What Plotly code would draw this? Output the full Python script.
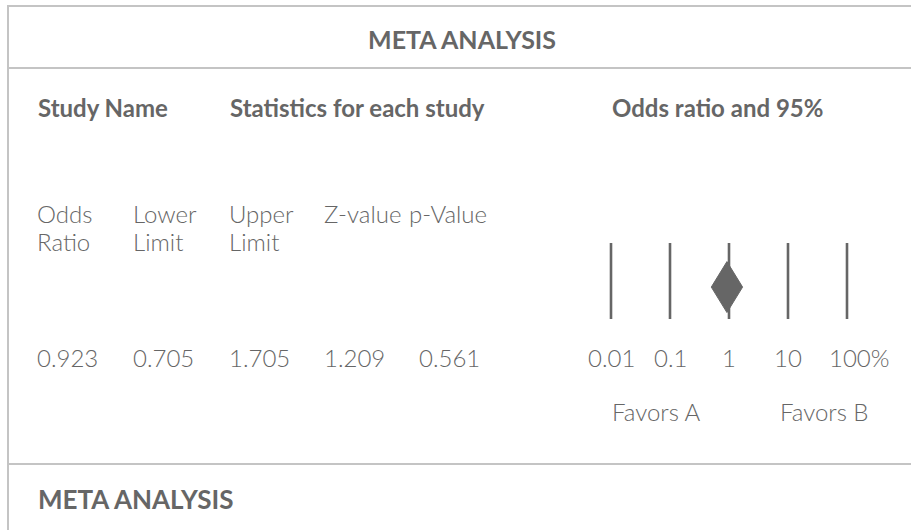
import math
import plotly.graph_objects as go

# ---------------- data ----------------
title_text = "META ANALYSIS"
footer_text = "META ANALYSIS"
group_headers = ["Study Name", "Statistics for each study", "Odds ratio and 95%"]
column_labels = [["Odds", "Ratio"], ["Lower", "Limit"], ["Upper", "Limit"], ["Z-value"], ["p-Value"]]
study_values = [0.923, 0.705, 1.705, 1.209, 0.561]
odds_ratio = 0.923
scale_ticks = [0.01, 0.1, 1, 10, 100]
scale_labels = ["0.01", "0.1", "1", "10", "100%"]
favor_labels = ["Favors A", "Favors B"]

# ---------------- layout helpers ----------------
W, H = 911, 530
TEXT = "#666666"
BORDER = "#c4c4c4"
FONT = "Lato, 'Open Sans', sans-serif"


def px(x):
    return x / W


def py(y):
    return 1 - y / H


fig = go.Figure()

# forest-plot scale lines
for v in scale_ticks:
    fig.add_trace(go.Scatter(x=[v, v], y=[0, 1], mode="lines",
                             line=dict(color=TEXT, width=2.6),
                             hoverinfo="skip", showlegend=False))

# pooled estimate diamond (centred on the odds ratio)
half_w = 0.265   # diamond half-width in decades (styling)
dy, half_h = 0.42, 0.335
fig.add_trace(go.Scatter(
    x=[odds_ratio * 10 ** -half_w, odds_ratio, odds_ratio * 10 ** half_w, odds_ratio, odds_ratio * 10 ** -half_w],
    y=[dy, dy + half_h, dy, dy - half_h, dy],
    mode="lines", fill="toself", fillcolor=TEXT, line=dict(color=TEXT, width=1),
    hoverinfo="skip", showlegend=False))

DEC = 59.0  # pixels per decade
fig.update_xaxes(type="log", range=[-2.2, 2.2], domain=[px(611 - 0.2 * DEC), px(847 + 0.2 * DEC)],
                 visible=False, fixedrange=True)
fig.update_yaxes(range=[0, 1], domain=[py(319), py(243)], visible=False, fixedrange=True)

ann = []


def add_text(text, x, y, size=24, bold=False, xanchor="left", xref="paper", xshift=0):
    ann.append(dict(text=text, x=x, y=y, xref=xref, yref="paper",
                    xanchor=xanchor, yanchor="middle", showarrow=False, xshift=xshift,
                    font=dict(family=FONT, size=size, color=TEXT,
                              weight=700 if bold else 300)))


add_text(title_text, px(462), py(39), size=25, bold=True, xanchor="center")

header_x = [36, 228, 610]
for t, x in zip(group_headers, header_x):
    add_text(t, px(x), py(107), size=24, bold=True)

col_x = [35, 131, 227, 322, 407]
for lines, x in zip(column_labels, col_x):
    for i, t in enumerate(lines):
        add_text(t, px(x), py(213 + 28 * i))

for v, x in zip(study_values, col_x):
    add_text(f"{v:.3f}", px(x if x < 400 else 417), py(357))

for v, lab in zip(scale_ticks, scale_labels):
    shift = 12 if lab.endswith("%") else 0
    add_text(lab, math.log10(v), py(357), xanchor="center", xref="x", xshift=shift)

add_text(favor_labels[0], px(610), py(411))
add_text(favor_labels[1], px(778), py(411))

add_text(footer_text, px(36), py(499), size=26, bold=True)

shapes = [
    dict(type="line", xref="paper", yref="paper", x0=px(7), x1=1, y0=py(6), y1=py(6),
         line=dict(color=BORDER, width=2)),
    dict(type="line", xref="paper", yref="paper", x0=px(8), x1=1, y0=py(68), y1=py(68),
         line=dict(color=BORDER, width=2)),
    dict(type="line", xref="paper", yref="paper", x0=px(8), x1=1, y0=py(464), y1=py(464),
         line=dict(color=BORDER, width=2)),
    dict(type="line", xref="paper", yref="paper", x0=px(8), x1=px(8), y0=py(5), y1=0,
         line=dict(color=BORDER, width=2)),
]

fig.update_layout(width=W, height=H, margin=dict(l=0, r=0, t=0, b=0),
                  paper_bgcolor="white", plot_bgcolor="white",
                  annotations=ann, shapes=shapes, showlegend=False)

fig.write_html("out.html", config={"displayModeBar": False},
               post_script="document.body.style.margin='0';document.body.style.overflow='hidden';")
